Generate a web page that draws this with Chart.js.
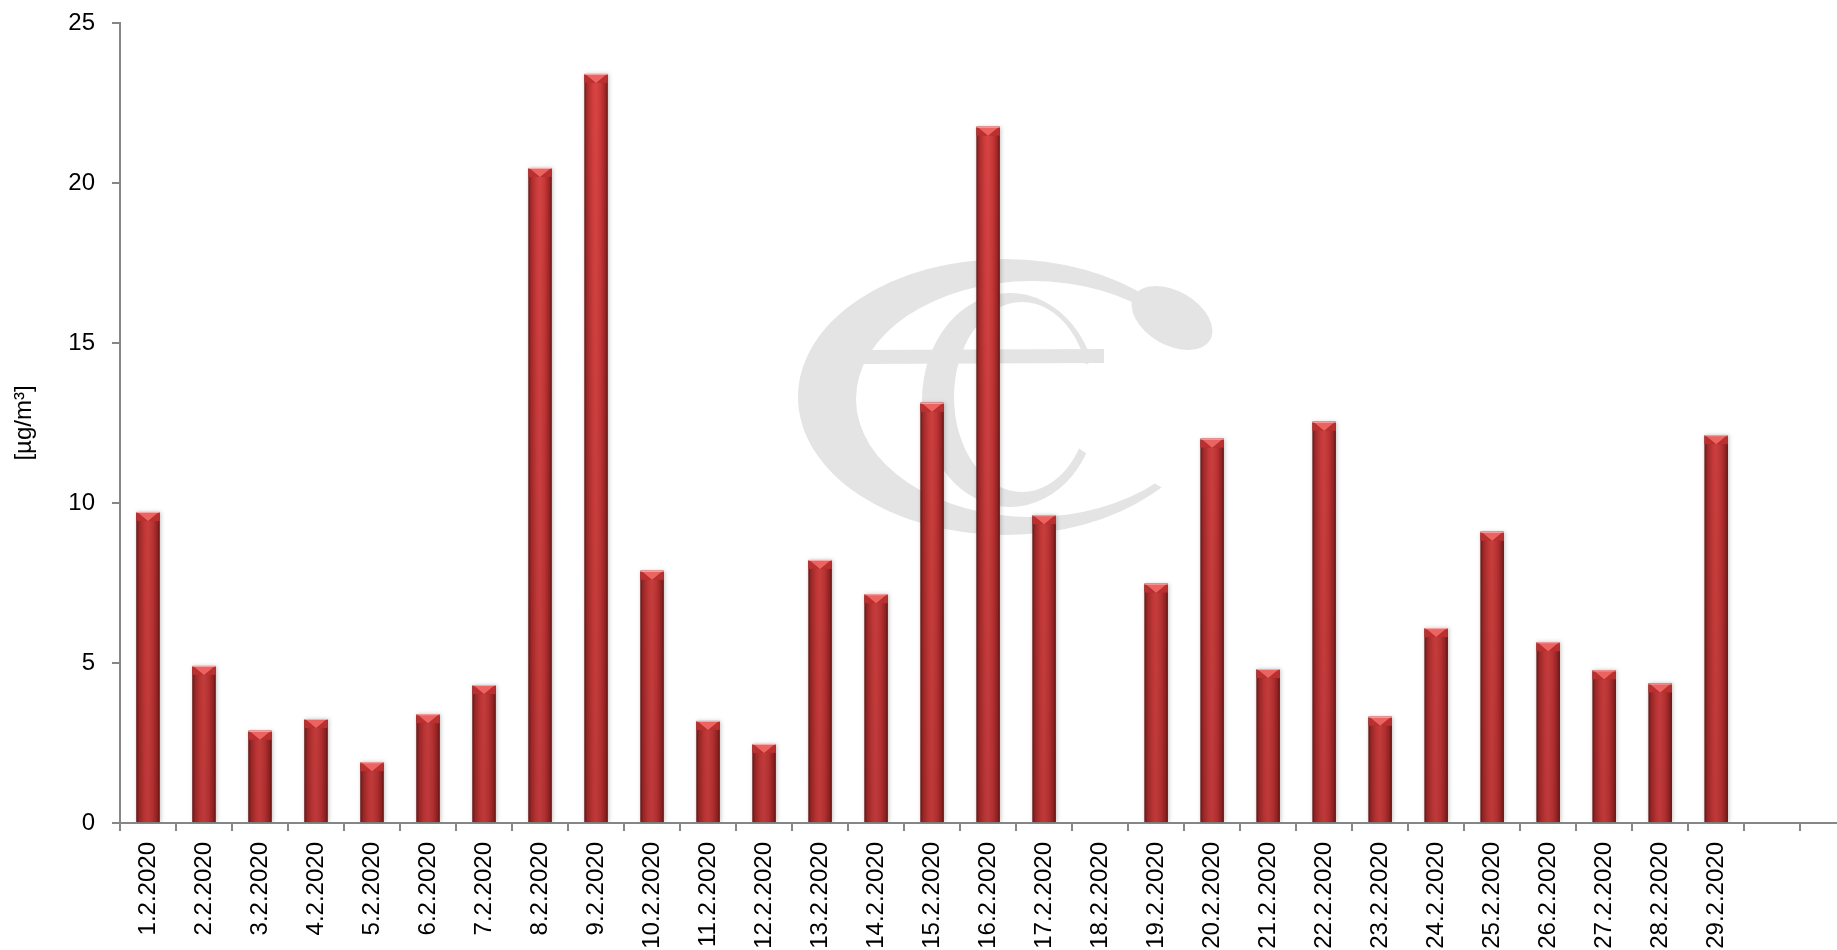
<!DOCTYPE html>
<html>
<head>
<meta charset="utf-8">
<script src="https://cdn.jsdelivr.net/npm/chart.js@4/dist/chart.umd.min.js"></script>
<style>
    html, body { margin: 0; padding: 0; background: #fff; overflow: hidden; }
    canvas { display: block; }
</style>
</head>
<body>
<canvas id="barChart" width="1868" height="950"></canvas>
<script>
var DAYS = ['1.2.2020', '2.2.2020', '3.2.2020', '4.2.2020', '5.2.2020', '6.2.2020', '7.2.2020',
    '8.2.2020', '9.2.2020', '10.2.2020', '11.2.2020', '12.2.2020', '13.2.2020', '14.2.2020',
    '15.2.2020', '16.2.2020', '17.2.2020', '18.2.2020', '19.2.2020', '20.2.2020', '21.2.2020',
    '22.2.2020', '23.2.2020', '24.2.2020', '25.2.2020', '26.2.2020', '27.2.2020', '28.2.2020',
    '29.2.2020', '', ''];

var VALUES = [9.72, 4.91, 2.88, 3.25, 1.90, 3.40, 4.31, 20.47, 23.41, 7.88, 3.19, 2.47, 8.22, 7.15,
    13.13, 21.76, 9.62, null, 7.48, 12.01, 4.81, 12.54, 3.32, 6.09, 9.10, 5.65, 4.77, 4.36, 12.12,
    null, null];

var Y_TICKS = [0, 5, 10, 15, 20, 25];
var UNIT = '[µg/m³]';

var FONT = 'Liberation Sans';
var AXIS = '#868686';
var BAR_PCT = 0.42;

// horizontal shading of one bar, built from the category position on the x scale
function barFill(c) {
    var chart = c.chart;
    var x = chart.scales.x;
    if (!x || !chart.chartArea || c.dataIndex === undefined) return '#c83434';
    var mid = x.getPixelForValue(c.dataIndex);
    var half = (x.getPixelForValue(1) - x.getPixelForValue(0)) * BAR_PCT / 2;
    if (!isFinite(mid) || !isFinite(half) || half <= 0) return '#c83434';
    var g = chart.ctx.createLinearGradient(mid - half, 0, mid + half, 0);
    g.addColorStop(0, '#6f1818');
    g.addColorStop(0.12, '#aa2c2c');
    g.addColorStop(0.35, '#d43d3d');
    g.addColorStop(0.5, '#da4545');
    g.addColorStop(0.7, '#cc3838');
    g.addColorStop(0.9, '#9e2626');
    g.addColorStop(1, '#641414');
    return g;
}

// one stroke of the logo: ring between two ellipses, kept between angles a0..a1
function ring(ctx, o, i, a0, a1) {
    ctx.save();
    ctx.beginPath();
    ctx.moveTo(o[0], o[1]);
    ctx.arc(o[0], o[1], 1500, a0, a1);
    ctx.closePath();
    ctx.clip();
    ctx.beginPath();
    ctx.ellipse(o[0], o[1], o[2], o[3], 0, 0, Math.PI * 2);
    ctx.moveTo(i[0] + i[2], i[1]);
    ctx.ellipse(i[0], i[1], i[2], i[3], 0, 0, Math.PI * 2);
    ctx.fill('evenodd');
    ctx.restore();
}

var deg = Math.PI / 180;

// faint "ec" logo behind the bars
var watermark = {
    id: 'watermark',
    beforeDatasetsDraw: function (chart) {
        var ctx = chart.ctx;
        ctx.save();
        ctx.fillStyle = '#e4e4e4';
        // c
        ring(ctx, [1005, 397, 207, 138], [1032, 399, 176, 118], 30 * deg, 335 * deg);
        ctx.beginPath();
        ctx.ellipse(1172, 318, 44, 27, 30 * deg, 0, Math.PI * 2);
        ctx.fill();
        // e
        ring(ctx, [1010, 400, 88, 107], [1022, 397, 68, 95], 35 * deg, 335 * deg);
        ctx.beginPath();
        ctx.moveTo(857, 350);
        ctx.lineTo(1104, 349);
        ctx.lineTo(1104, 363);
        ctx.lineTo(857, 364);
        ctx.closePath();
        ctx.fill();
        ctx.restore();

        ctx.shadowColor = 'rgba(0, 0, 0, 0.22)';
        ctx.shadowBlur = 4;
        ctx.shadowOffsetX = 1;
        ctx.shadowOffsetY = 0;
    },
    afterDatasetsDraw: function (chart) {
        var ctx = chart.ctx;
        ctx.shadowColor = 'rgba(0, 0, 0, 0)';
        ctx.shadowBlur = 0;
        ctx.shadowOffsetX = 0;
        var area = chart.chartArea;
        chart.getDatasetMeta(0).data.forEach(function (bar, i) {
            if (VALUES[i] === null) return;
            var l = bar.x - bar.width / 2, r = bar.x + bar.width / 2;
            var top = bar.y, base = bar.base;
            ctx.save();
            // darker towards the base
            var v = ctx.createLinearGradient(0, area.top, 0, area.bottom);
            v.addColorStop(0, 'rgba(0,0,0,0)');
            v.addColorStop(1, 'rgba(40,0,0,0.16)');
            ctx.fillStyle = v;
            ctx.fillRect(l, top, r - l, base - top);
            // bevel on the top
            var d = Math.min(9, (base - top) / 2);
            ctx.fillStyle = '#b83030';
            ctx.fillRect(l, top, r - l, d);
            ctx.beginPath();
            ctx.moveTo(l + 1, top);
            ctx.lineTo(r - 1, top);
            ctx.lineTo(bar.x, top + d);
            ctx.closePath();
            ctx.fillStyle = '#ec6462';
            ctx.fill();
            ctx.fillStyle = 'rgba(255,190,190,0.8)';
            ctx.fillRect(l, top, r - l, 1);
            ctx.restore();
        });
    }
};

var ctx = document.getElementById('barChart').getContext('2d');
window.myBar = new Chart(ctx, {
    type: 'bar',
    data: {
        labels: DAYS,
        datasets: [{
            data: VALUES,
            backgroundColor: barFill,
            borderWidth: 0,
            barPercentage: BAR_PCT,
            categoryPercentage: 1
        }]
    },
    options: {
        responsive: false,
        animation: false,
        layout: { padding: 0 },
        plugins: {
            legend: { display: false },
            tooltip: { enabled: false }
        },
        scales: {
            x: {
                offset: true,
                afterFit: function (s) { s.height = 127; },
                grid: { drawOnChartArea: false, drawTicks: true, tickLength: 8, color: AXIS, lineWidth: 2, offset: true },
                border: { color: AXIS, width: 2 },
                ticks: {
                    autoSkip: false,
                    minRotation: 90,
                    maxRotation: 90,
                    padding: 11,
                    color: '#000',
                    font: { family: FONT, size: 24 }
                }
            },
            y: {
                min: 0,
                max: 25,
                afterFit: function (s) {
                    s.width = 120;
                    s.paddingTop = 23;
                },
                afterBuildTicks: function (s) {
                    s.ticks = Y_TICKS.map(function (v) { return { value: v }; });
                },
                grid: { drawOnChartArea: false, drawTicks: true, tickLength: 8, color: AXIS, lineWidth: 2 },
                border: { color: AXIS, width: 2 },
                ticks: {
                    padding: 17,
                    color: '#000',
                    font: { family: FONT, size: 24 }
                },
                title: {
                    display: true,
                    text: UNIT,
                    color: '#000',
                    font: { family: FONT, size: 24 },
                    padding: { top: 10, bottom: 0 }
                }
            }
        }
    },
    plugins: [watermark]
});
</script>
</body>
</html>
